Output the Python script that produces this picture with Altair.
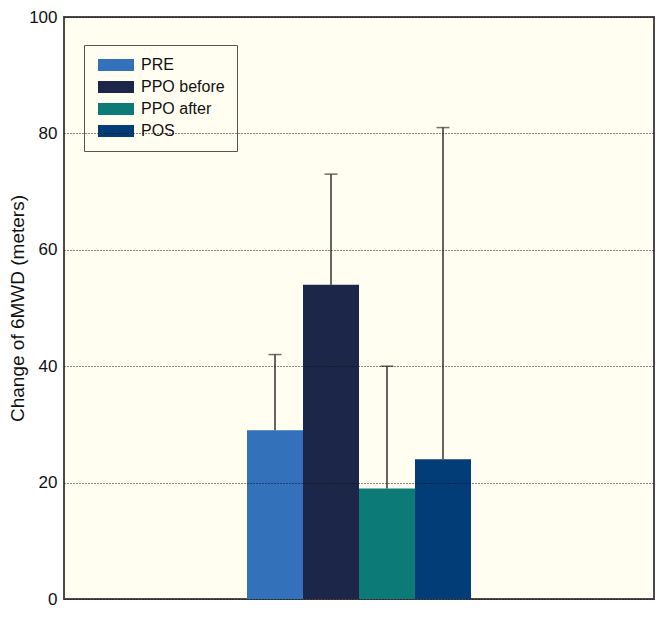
import altair as alt
import pandas as pd

groups = ["PRE", "PPO before", "PPO after", "POS"]
means = [29, 54, 19, 24]
uppers = [42, 73, 40, 81]
colors = ["#3371BA", "#1C2649", "#0C7B78", "#033D78"]
y_ticks = [0, 20, 40, 60, 80, 100]

df = pd.DataFrame({
    "grp": ["all"] * len(groups),
    "series": groups,
    "mean": means,
    "upper": uppers,
})

FONT = "Liberation Sans"
BG = "#FFFEF0"

x_enc = alt.X("grp:N", axis=None,
              scale=alt.Scale(paddingInner=0, paddingOuter=0.817))
xo_enc = alt.XOffset("series:N", sort=groups,
                     scale=alt.Scale(paddingInner=0, paddingOuter=0))
y_scale = alt.Scale(domain=[0, 100], nice=False)

bars = alt.Chart(df).mark_bar(opacity=1).encode(
    x=x_enc,
    xOffset=xo_enc,
    y=alt.Y("mean:Q", scale=y_scale,
            axis=alt.Axis(values=y_ticks, grid=True, gridDash=[1, 2],
                          gridColor="#111", gridWidth=1, ticks=False,
                          domain=False, zindex=1,
                          labelFont=FONT, labelFontSize=17, labelColor="#111",
                          labelPadding=7,
                          title="Change of 6MWD (meters)", titleFont=FONT,
                          titleFontSize=19, titleFontWeight="normal",
                          titleColor="#111", titleX=-37)),
    color=alt.Color("series:N", sort=groups,
                    scale=alt.Scale(domain=groups, range=colors),
                    legend=alt.Legend(title=None, orient="none",
                                      legendX=20, legendY=28,
                                      symbolType="M-1,-1H5V1H-1Z",
                                      symbolSize=144, symbolStrokeWidth=0,
                                      labelFont=FONT, labelFontSize=16,
                                      labelColor="#111", labelOffset=29,
                                      rowPadding=6, padding=12,
                                      strokeColor="#555", fillColor=BG,
                                      cornerRadius=0)),
)

err = alt.Chart(df).mark_rule(color="#333", strokeWidth=1.5).encode(
    x=x_enc,
    xOffset=xo_enc,
    y=alt.Y("mean:Q", scale=y_scale),
    y2="upper:Q",
)

caps = alt.Chart(df).mark_tick(color="#333", thickness=1.5, size=13).encode(
    x=x_enc,
    xOffset=xo_enc,
    y=alt.Y("upper:Q", scale=y_scale),
)

chart = alt.layer(bars, err, caps).properties(
    width=590, height=582,
    autosize=alt.AutoSizeParams(type="none"),
    padding={"left": 56, "top": 9, "right": 2, "bottom": 9},
    background="white",
).configure_view(
    fill=BG, stroke="#4a4a4a", strokeWidth=2
)

chart.save("out.html", embed_options={"renderer": "svg", "actions": False})
